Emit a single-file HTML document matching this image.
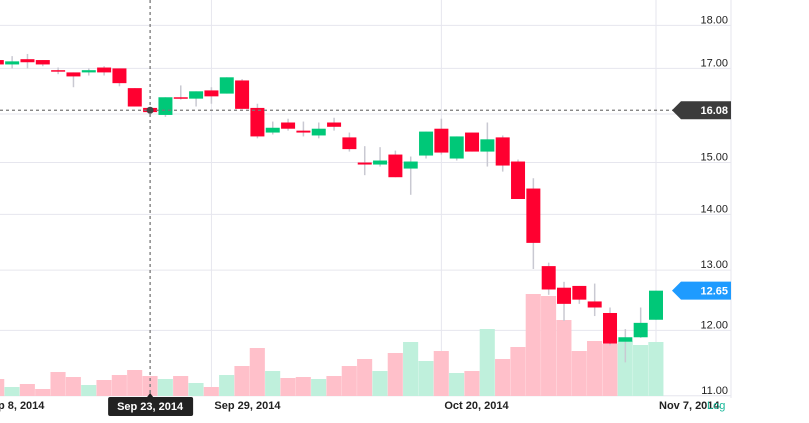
<!DOCTYPE html>
<html><head><meta charset="utf-8"><style>
html,body{margin:0;padding:0;background:#fff;}
svg{display:block;font-family:"Liberation Sans",sans-serif;}
</style></head><body>
<svg id="chart" width="809" height="423" viewBox="0 0 809 423">
<g id="grid"></g>
<g id="vol"></g>
<g id="candles"></g>
<g id="axes"></g>
</svg>
<script>
const opens  = [17.19,17.09,17.21,17.19,16.96,16.91,16.91,17.02,17.00,16.56,16.13,15.98,16.36,16.33,16.51,16.44,16.73,16.13,15.61,15.82,15.65,15.55,15.82,15.51,15.00,14.96,15.16,14.88,15.14,15.69,15.08,15.61,15.22,15.51,15.02,14.49,13.07,12.70,12.73,12.47,12.28,11.82,11.89,12.17];
const highs  = [17.21,17.28,17.33,17.19,17.02,16.91,17.00,17.05,17.00,16.56,16.13,16.36,16.62,16.49,16.58,16.80,16.76,16.22,15.84,15.90,15.84,15.82,15.92,15.61,15.33,15.31,15.24,15.12,15.63,15.90,15.53,15.61,15.82,15.55,15.06,14.69,13.13,12.80,12.73,12.77,12.37,12.02,12.37,12.65];
const lows   = [17.07,17.00,17.00,17.05,16.87,16.58,16.84,16.84,16.60,16.16,16.04,15.94,16.31,16.16,16.22,16.44,16.11,15.49,15.57,15.65,15.53,15.49,15.65,15.22,14.75,14.92,14.71,14.37,15.08,15.16,15.04,15.22,14.92,14.82,14.29,13.02,12.58,12.15,12.43,12.23,11.76,11.50,11.88,12.17];
const closes = [17.09,17.16,17.14,17.09,16.93,16.82,16.96,16.91,16.67,16.16,16.04,16.36,16.33,16.49,16.38,16.80,16.11,15.53,15.71,15.69,15.61,15.69,15.73,15.27,14.96,15.04,14.71,15.02,15.63,15.20,15.53,15.22,15.47,14.94,14.29,13.48,12.67,12.43,12.50,12.37,11.79,11.89,12.12,12.65];
const volumes = [17,9,12,7,24,19,11,16,21,26,20,17,20,13,9,21,30,48,25,18,19,17,20,30,37,25,43,54,35,45,23,25,67,37,49,102,100,76,45,55,52,55,51,54];
const priceTicks = [18,17,16,15,14,13,12,11];
const dateLabels = ["Sep 8, 2014","Sep 29, 2014","Oct 20, 2014","Nov 7, 2014"];
const dateIndex = [-1,14,29,43];
const crossIndex = 10, crossPrice = 16.08, crossLabel = "Sep 23, 2014";

const NS="http://www.w3.org/2000/svg";
const PR=731, BOT=396;
const xOf = i => 656 - (opens.length-1-i)*15.33;
const yOf = p => 114 + 752*Math.log(16/p);
const vScale = v => BOT - v*1.0;
function mk(parent, tag, attrs){const e=document.createElementNS(NS,tag);for(const k in attrs)e.setAttribute(k,attrs[k]);parent.appendChild(e);return e;}
const grid=document.getElementById('grid'), vol=document.getElementById('vol'), cg=document.getElementById('candles'), ax=document.getElementById('axes');

// horizontal grid + price labels
priceTicks.forEach(p=>{
  const y=yOf(p);
  const l=mk(grid,'line',{x1:0,x2:PR,y1:y,y2:y,stroke:'#e6e6ee','stroke-width':1});
  
  
  const t=mk(ax,'text',{x:728,y:y-2,'text-anchor':'end','font-size':11,fill:'#222'});
  t.textContent=p.toFixed(2);
  
  
});
// vertical grid + date labels
dateIndex.forEach((di,k)=>{
  const x=xOf(di);
  if(k>0){const l=mk(grid,'line',{x1:x,x2:x,y1:0,y2:BOT,stroke:'#e6e6ee','stroke-width':1});
  
  }
  const t=mk(ax,'text',{x:x+3,y:409,'font-size':11,'font-weight':'bold',fill:'#222',transform:'',textLength:''});
  t.removeAttribute('transform');t.removeAttribute('textLength');
  t.textContent=dateLabels[k];
  
  
});
mk(grid,'line',{x1:PR,x2:PR,y1:0,y2:423,stroke:'#e6e6ee','stroke-width':1});
mk(grid,'rect',{x:706,y:398,width:103,height:25,fill:'#fff'});

// volume
volumes.forEach((v,i)=>{
  const up=closes[i]>=opens[i];
  const x=xOf(i);
  const r=mk(vol,'rect',{x:x-7.66,y:vScale(v),width:15.1,height:BOT-vScale(v),fill:up?'#bff0dc':'#ffc0ca'});
  
  
});
// candles
opens.forEach((o,i)=>{
  const c=closes[i],up=c>=o,x=xOf(i);
  const col=up?'#00c878':'#ff0030';
  const w=mk(cg,'line',{x1:x,x2:x,y1:yOf(highs[i]),y2:yOf(lows[i]),stroke:'#c9c9d2','stroke-width':1.5});
  
  
  const top=yOf(Math.max(o,c)),bot=yOf(Math.min(o,c));
  const b=mk(cg,'rect',{x:x-7,y:top,width:14,height:Math.max(1.5,bot-top),fill:col});
  
  
});

// crosshair
const cx=xOf(crossIndex), cy=yOf(crossPrice);
mk(ax,'line',{x1:cx,x2:cx,y1:0,y2:BOT,stroke:'#777','stroke-width':1.3,'stroke-dasharray':'3,3'});
mk(ax,'line',{x1:0,x2:676,y1:cy,y2:cy,stroke:'#777','stroke-width':1.3,'stroke-dasharray':'3,3'});
mk(ax,'circle',{cx:cx,cy:cy,r:3.5,fill:'#444'});
// crosshair date tooltip
const tg=mk(ax,'g',{});


mk(tg,'rect',{x:cx-42,y:397,width:85,height:19,rx:2,fill:'#222'});
mk(tg,'polygon',{points:`${cx-3},397 ${cx},393 ${cx+3},397`,fill:'#222'});
const tt=mk(tg,'text',{x:cx,y:410,'text-anchor':'middle','font-size':11,'font-weight':'bold',fill:'#fff'});tt.textContent=crossLabel;
// price tags
function tag(p,color,name){
  const y=yOf(p);
  const g=mk(ax,'g',{});
  
  
  mk(g,'polygon',{points:`672,${y} 681,${y-9} 731,${y-9} 731,${y+9} 681,${y+9}`,fill:color});
  const t=mk(g,'text',{x:728,y:y+4,'text-anchor':'end','font-size':11,'font-weight':'bold',fill:'#fff'});t.textContent=p.toFixed(2);
}
tag(crossPrice,'#3c3c3c','crosshair-price-tag');
tag(closes[closes.length-1],'#1e9bff','last-price-tag');
const lg=mk(ax,'text',{x:707,y:409,'font-size':11,fill:'#19b99a'});lg.textContent='Log';


</script>
</body></html>
